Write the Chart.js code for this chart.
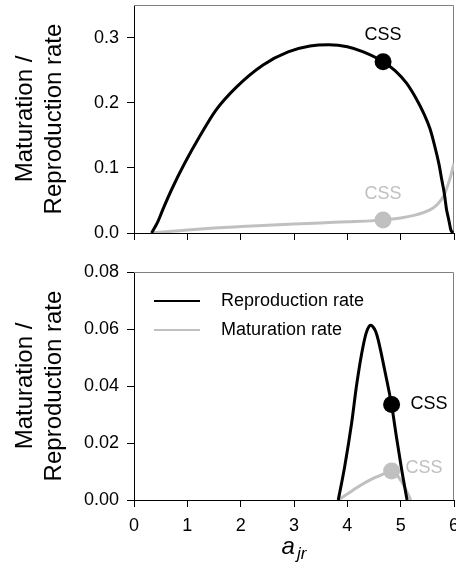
<!DOCTYPE html>
<html>
<head>
<meta charset="utf-8">
<script src="https://cdn.jsdelivr.net/npm/chart.js@4.4.1/dist/chart.umd.min.js"></script>
<style>
  body { margin: 0; background: #fff; }
  #wrap { position: relative; width: 456px; height: 572px; }
  #wrap canvas { position: absolute; left: 0; }
</style>
</head>
<body>
<div id="wrap">
  <canvas id="topChart" width="456" height="250" style="top:0"></canvas>
  <canvas id="bottomChart" width="456" height="312" style="top:260px"></canvas>
</div>
<script>
// top panel: reproduction / maturation rate against a_jr
const repTopX = [0.33, 0.45, 0.54, 0.73, 0.95, 1.23, 1.54, 1.92, 2.42, 2.89, 3.3, 3.65, 4.0, 4.3, 4.67, 4.9, 5.11, 5.3, 5.43, 5.55, 5.64, 5.72, 5.77, 5.82, 5.86, 5.9, 5.94, 5.98];
const repTopY = [0, 0.018, 0.036, 0.071, 0.107, 0.148, 0.189, 0.224, 0.258, 0.278, 0.287, 0.289, 0.286, 0.278, 0.263, 0.249, 0.230, 0.205, 0.184, 0.16, 0.133, 0.105, 0.082, 0.06, 0.036, 0.021, 0.005, 0];
const matTopX = [0.33, 0.6, 1.0, 1.5, 2.0, 2.5, 3.0, 3.5, 4.0, 4.5, 4.67, 5.0, 5.25, 5.45, 5.6, 5.7, 5.8, 5.87, 5.93, 6.0];
const matTopY = [0, 0.002, 0.0045, 0.0075, 0.0098, 0.0118, 0.0137, 0.0155, 0.0172, 0.019, 0.0199, 0.023, 0.027, 0.032, 0.038, 0.045, 0.056, 0.07, 0.085, 0.107];
const cssTop = { x: 4.67, rep: 0.263, mat: 0.0199 };

// bottom panel
const repBotX = [3.83, 3.95, 4.08, 4.17, 4.27, 4.35, 4.4, 4.44, 4.48, 4.53, 4.58, 4.7, 4.83, 4.92, 5.02, 5.12];
const repBotY = [0, 0.0117, 0.0269, 0.0398, 0.0515, 0.0584, 0.0607, 0.0613, 0.0608, 0.0592, 0.0561, 0.0456, 0.0333, 0.0222, 0.0105, 0];
const matBotX = [3.83, 4.0, 4.11, 4.25, 4.42, 4.6, 4.75, 4.83, 4.92, 5.02, 5.1, 5.19];
const matBotY = [0, 0.0021, 0.0035, 0.0052, 0.007, 0.0085, 0.0097, 0.0102, 0.009, 0.0064, 0.0035, 0];
const cssBot = { x: 4.83, rep: 0.0335, mat: 0.0102 };

const xTicks = [0, 1, 2, 3, 4, 5, 6];
const seriesNames = ['Reproduction rate', 'Maturation rate'];
const cssLabel = 'CSS';
const yTitle = ['Maturation /', 'Reproduction rate'];

const BLACK = '#000000';
const GREY = '#c0c0c0';
const FONT = "'Liberation Sans', Arial, sans-serif";

Chart.defaults.font.family = FONT;
Chart.defaults.font.size = 18;
Chart.defaults.color = '#000';

function toPoints(xs, ys) {
  return xs.map((x, i) => ({ x, y: ys[i] }));
}

function lineSet(label, xs, ys, color) {
  return {
    label,
    data: toPoints(xs, ys),
    borderColor: color,
    borderWidth: 3,
    pointRadius: 0,
    fill: false,
    cubicInterpolationMode: 'monotone',
    order: 2,
  };
}

function dotSet(x, y, color) {
  return {
    label: cssLabel,
    data: [{ x, y }],
    showLine: false,
    pointRadius: 8.5,
    pointHoverRadius: 8.5,
    backgroundColor: color,
    borderColor: color,
    borderWidth: 0,
    order: 0,
  };
}

function noPad(scale) {
  scale.paddingLeft = 0;
  scale.paddingRight = 0;
  scale.paddingTop = 0;
  scale.paddingBottom = 0;
}

// gray top + right frame lines
const framePlugin = {
  id: 'frame',
  beforeDatasetsDraw(chart) {
    const { ctx, chartArea: a } = chart;
    ctx.save();
    ctx.strokeStyle = '#808080';
    ctx.lineWidth = 1;
    ctx.beginPath();
    ctx.moveTo(a.left, a.top + 0.5);
    ctx.lineTo(a.right - 0.5, a.top + 0.5);
    ctx.lineTo(a.right - 0.5, a.bottom);
    ctx.stroke();
    ctx.restore();
  },
};

// "CSS" labels next to the dots
function cssLabelsPlugin(items) {
  return {
    id: 'cssLabels',
    afterDatasetsDraw(chart) {
      const { ctx } = chart;
      const xs = chart.scales.x;
      const ys = chart.scales.y;
      ctx.save();
      ctx.font = `18px ${FONT}`;
      ctx.textBaseline = 'middle';
      items.forEach((it) => {
        ctx.fillStyle = it.color;
        ctx.textAlign = it.align;
        ctx.fillText(cssLabel, xs.getPixelForValue(it.x) + it.dx, ys.getPixelForValue(it.y) + it.dy);
      });
      ctx.restore();
    },
  };
}

const legendPlugin = {
  id: 'ownLegend',
  afterDraw(chart) {
    const { ctx, chartArea: a } = chart;
    const colors = [BLACK, GREY];
    ctx.save();
    ctx.font = `18px ${FONT}`;
    ctx.textBaseline = 'middle';
    ctx.textAlign = 'left';
    seriesNames.forEach((name, i) => {
      const y = a.top + 29 + i * 29;
      ctx.strokeStyle = colors[i];
      ctx.lineWidth = 2;
      ctx.beginPath();
      ctx.moveTo(a.left + 20, y);
      ctx.lineTo(a.left + 66, y);
      ctx.stroke();
      ctx.fillStyle = '#000';
      ctx.fillText(name, a.left + 87, y);
    });
    ctx.restore();
  },
};

// italic a with subscript jr
const xTitlePlugin = {
  id: 'xTitle',
  afterDraw(chart) {
    const { ctx, chartArea: a } = chart;
    ctx.save();
    ctx.fillStyle = '#000';
    ctx.textBaseline = 'alphabetic';
    ctx.textAlign = 'left';
    ctx.font = `italic 24px ${FONT}`;
    const wa = ctx.measureText('a').width;
    ctx.font = `italic 17px ${FONT}`;
    const wj = ctx.measureText('jr').width;
    const x0 = (a.left + a.right) / 2 - (wa + wj + 2) / 2;
    const base = a.bottom + 54;
    ctx.font = `italic 24px ${FONT}`;
    ctx.fillText('a', x0, base);
    ctx.font = `italic 17px ${FONT}`;
    ctx.fillText('jr', x0 + wa + 2, base + 5);
    ctx.restore();
  },
};

function makeOptions(yMax, yStep, digits, showXLabels, xHeight, padTop) {
  return {
    responsive: false,
    animation: false,
    layout: { autoPadding: false, padding: { top: padTop, right: 2, left: 0, bottom: 0 } },
    plugins: { legend: { display: false }, tooltip: { enabled: false } },
    scales: {
      x: {
        type: 'linear',
        min: 0,
        max: 6,
        afterBuildTicks: (scale) => { scale.ticks = xTicks.map((v) => ({ value: v })); },
        ticks: { display: showXLabels, padding: 8, font: { size: 18 }, color: '#000', maxRotation: 0 },
        grid: { drawOnChartArea: false, drawTicks: true, tickLength: 7, color: BLACK },
        border: { display: true, color: BLACK, width: 1 },
        afterFit: (scale) => { scale.height = xHeight; noPad(scale); },
      },
      y: {
        type: 'linear',
        min: 0,
        max: yMax,
        ticks: {
          stepSize: yStep,
          includeBounds: false,
          padding: 8,
          font: { size: 18 },
          color: '#000',
          callback: (v) => Number(v).toFixed(digits),
        },
        grid: { drawOnChartArea: false, drawTicks: true, tickLength: 7, color: BLACK },
        border: { display: true, color: BLACK, width: 1 },
        title: {
          display: true,
          text: yTitle,
          font: { size: 24 },
          color: '#000',
          padding: { top: 11, bottom: 0 },
        },
        afterFit: (scale) => { scale.width = 134; noPad(scale); },
      },
    },
  };
}

new Chart(document.getElementById('topChart'), {
  type: 'line',
  data: {
    datasets: [
      dotSet(cssTop.x, cssTop.rep, BLACK),
      dotSet(cssTop.x, cssTop.mat, GREY),
      lineSet(seriesNames[0], repTopX, repTopY, BLACK),
      lineSet(seriesNames[1], matTopX, matTopY, GREY),
    ],
  },
  options: makeOptions(0.35, 0.1, 1, false, 17, 5),
  plugins: [framePlugin, cssLabelsPlugin([
    { x: cssTop.x, y: cssTop.rep, dx: 0, dy: -27, align: 'center', color: BLACK },
    { x: cssTop.x, y: cssTop.mat, dx: 0, dy: -26, align: 'center', color: GREY },
  ])],
});

new Chart(document.getElementById('bottomChart'), {
  type: 'line',
  data: {
    datasets: [
      dotSet(cssBot.x, cssBot.rep, BLACK),
      dotSet(cssBot.x, cssBot.mat, GREY),
      lineSet(seriesNames[0], repBotX, repBotY, BLACK),
      lineSet(seriesNames[1], matBotX, matBotY, GREY),
    ],
  },
  options: makeOptions(0.08, 0.02, 2, true, 72, 12),
  plugins: [framePlugin, legendPlugin, xTitlePlugin, cssLabelsPlugin([
    { x: cssBot.x, y: cssBot.rep, dx: 19, dy: 0, align: 'left', color: BLACK },
    { x: cssBot.x, y: cssBot.mat, dx: 14, dy: -3, align: 'left', color: GREY },
  ])],
});
</script>
</body>
</html>
